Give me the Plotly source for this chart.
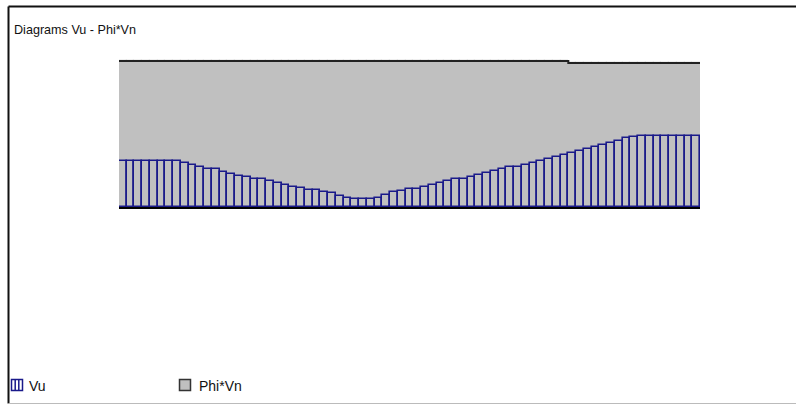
import plotly.graph_objects as go

# Station index along the member (75 segments)
stations = list(range(75))

# Vu profile (units as drawn)
vu = [46.5, 46.5, 46.5, 46.5, 46.5, 46.5, 46.5, 46.5,
      44.0, 42.0, 40.0, 37.7, 37.7, 35.3, 33.0, 31.3, 29.7, 27.7, 27.7, 26.0,
      23.7, 22.0, 20.3, 18.7, 17.0, 17.0, 15.3, 13.7, 11.3, 9.3, 7.7, 7.7, 7.7,
      9.3, 12.0, 14.7, 16.3, 17.7, 17.7, 19.7, 22.0, 24.0, 26.0, 27.7, 27.7,
      29.7, 32.0, 34.0, 36.0, 37.7, 39.7, 39.7, 42.0, 44.3, 46.3, 47.7, 49.7,
      52.0, 53.7, 56.0, 57.7, 60.3, 62.0, 64.3, 66.3, 68.7, 70.0,
      71.0, 71.0, 71.0, 71.0, 71.0, 71.0, 71.0, 71.0]

# Phi*Vn capacity per segment
phivn = [146.0] * 58 + [144.0] * 17

edges = list(range(76))
phivn_edges = phivn + [phivn[-1]]

NAVY = "#1a1a8a"
GRAY = "#c0c0c0"
DARK = "#111111"

centers = [s + 0.5 for s in stations]

fig = go.Figure()

# Phi*Vn gray area (as bars so Vu bars can sit on top)
fig.add_trace(go.Bar(
    x=centers, y=phivn, width=1,
    marker=dict(color=GRAY, line=dict(color=GRAY, width=1.2)),
    showlegend=False, name="Phi*Vn"))

# Vu bars (outlined, hatch-like)
fig.add_trace(go.Bar(
    x=centers, y=vu, width=1,
    marker=dict(color="rgba(0,0,0,0)", line=dict(color=NAVY, width=1.6)),
    showlegend=False, name="Vu"))

# Phi*Vn top edge
fig.add_trace(go.Scatter(
    x=edges, y=phivn_edges, mode="lines",
    line=dict(color="#222222", width=2, shape="hv"),
    showlegend=False, hoverinfo="skip"))

L, R, T, B = 119, 96, 47, 198
H = 405 - T - B
W = 796 - L - R

def px(xp):
    return (xp - L) / W

def py(yp):
    return (405 - B - yp) / H

shapes = [
    # outer frame
    dict(type="line", xref="paper", yref="paper", x0=px(8.5), x1=px(800),
         y0=py(6.5), y1=py(6.5), line=dict(color=DARK, width=2)),
    dict(type="line", xref="paper", yref="paper", x0=px(8.5), x1=px(8.5),
         y0=py(6.5), y1=py(403.5), line=dict(color=DARK, width=2)),
    dict(type="line", xref="paper", yref="paper", x0=px(8.5), x1=px(800),
         y0=py(403.5), y1=py(403.5), line=dict(color="#bbbbbb", width=1)),
    # legend icon Vu
    dict(type="rect", xref="paper", yref="paper", x0=px(11.5), x1=px(22.5),
         y0=py(390.5), y1=py(379.5), line=dict(color=NAVY, width=1.5),
         fillcolor="white"),
    dict(type="line", xref="paper", yref="paper", x0=px(15.2), x1=px(15.2),
         y0=py(390.5), y1=py(379.5), line=dict(color=NAVY, width=1.5)),
    dict(type="line", xref="paper", yref="paper", x0=px(18.8), x1=px(18.8),
         y0=py(390.5), y1=py(379.5), line=dict(color=NAVY, width=1.5)),
    # legend icon Phi*Vn
    dict(type="rect", xref="paper", yref="paper", x0=px(179.5), x1=px(190.5),
         y0=py(390.5), y1=py(379.5), line=dict(color="#333333", width=1.5),
         fillcolor=GRAY),
]

annotations = [
    dict(text="Diagrams Vu - Phi*Vn", xref="paper", yref="paper",
         x=px(12), y=py(30), xanchor="left", yanchor="middle",
         showarrow=False, font=dict(size=12.6, color=DARK)),
    dict(text="Vu", xref="paper", yref="paper",
         x=px(27), y=py(386), xanchor="left", yanchor="middle",
         showarrow=False, font=dict(size=14, color=DARK)),
    dict(text="Phi*Vn", xref="paper", yref="paper",
         x=px(197), y=py(386), xanchor="left", yanchor="middle",
         showarrow=False, font=dict(size=14, color=DARK)),
]

fig.update_layout(
    width=796, height=405,
    margin=dict(l=L, r=R, t=T, b=B),
    paper_bgcolor="white", plot_bgcolor="white",
    bargap=0, barmode="overlay",
    font=dict(family="Liberation Sans, Arial, sans-serif", size=12, color=DARK),
    xaxis=dict(range=[0, 75], showgrid=False, zeroline=False, showticklabels=False,
               ticks="", showline=True, linecolor="#000000", linewidth=1.5,
               layer="above traces"),
    yaxis=dict(range=[0, 160], showgrid=False, zeroline=False, showticklabels=False,
               ticks="", showline=False),
    showlegend=False,
    annotations=annotations,
    shapes=shapes,
)

fig.write_html("out.html", post_script="document.body.style.margin='0';",
               config={"displayModeBar": False})
